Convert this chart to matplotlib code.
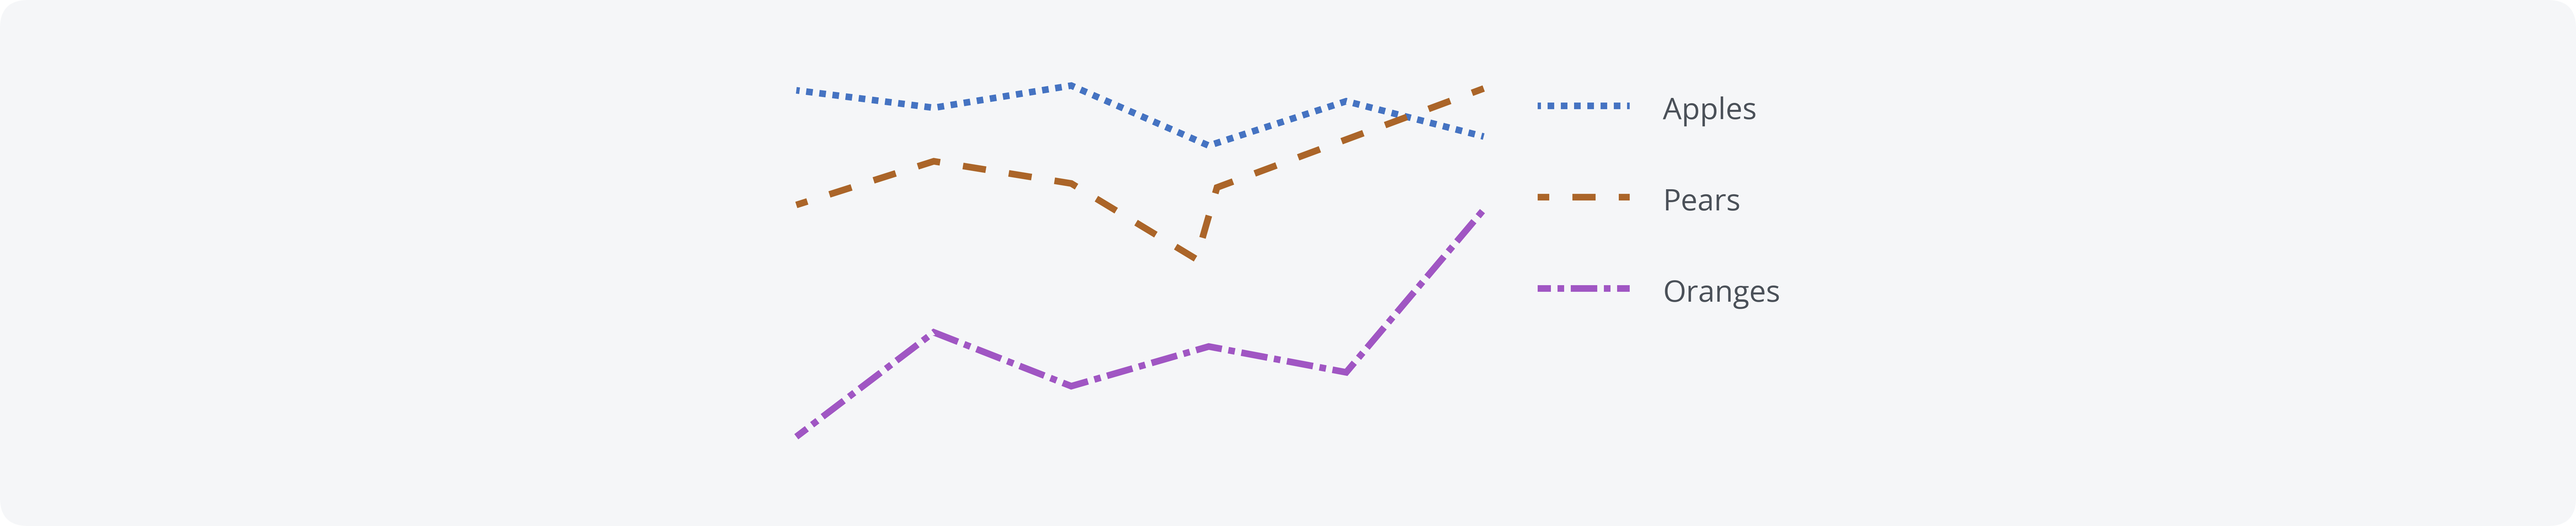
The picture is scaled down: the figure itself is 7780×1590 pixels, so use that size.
import matplotlib
matplotlib.use("Agg")
import matplotlib.pyplot as plt
from matplotlib.lines import Line2D
from matplotlib.patches import FancyBboxPatch

# data (x = category index, y = value 0..100)
apples_x = [0, 1, 2, 3, 4, 5]
apples_y = [97.0, 92.2, 98.3, 81.8, 94.0, 84.3]

pears_x = [0, 1, 2, 2.91, 3.06, 5]
pears_y = [65.5, 77.5, 71.4, 50.6, 70.3, 97.5]

oranges_x = [0, 1, 2, 3, 4, 5]
oranges_y = [1.8, 30.5, 15.7, 26.6, 19.5, 64.2]

labels = ["Apples", "Pears", "Oranges"]
colors = ["#4573c2", "#ab6529", "#a056c3"]

W, H, DPI = 7780, 1590, 100
U = 5 * 72 / DPI  # one css px of the source, in points

styles = [
    (2 * U, (4 * U, 4 * U)),
    (7 * U, (14 * U, 14 * U)),
    (8 * U, (16 * U, 4 * U, 4 * U, 4 * U)),
]

plt.rcParams['lines.scale_dashes'] = False
plt.rcParams['font.family'] = ['Open Sans', 'DejaVu Sans']

fig = plt.figure(figsize=(W / DPI, H / DPI), dpi=DPI, facecolor="white")

# rounded card background
card = FancyBboxPatch((0, 0), W, H, boxstyle="round,pad=0,rounding_size=85",
                      transform=None, facecolor="#f5f6f8", edgecolor="none", zorder=-5)
fig.patches.append(card)


def px(x, y):
    # pixel position (from top-left) -> figure fraction
    return x / W, 1 - y / H


# plot area: x 0..5 spans 2405..4481 px, y 0..100 spans 1340..240 px
left, top = px(2405, 240)
right, bottom = px(4481, 1340)
ax = fig.add_axes([left, bottom, right - left, top - bottom])
ax.set_xlim(0, 5)
ax.set_ylim(0, 100)
ax.axis("off")

series = [(apples_x, apples_y), (pears_x, pears_y), (oranges_x, oranges_y)]
for (xs, ys), c, ls in zip(series, colors, styles):
    ax.plot(xs, ys, color=c, lw=4 * U, linestyle=ls, dash_capstyle="butt",
            dash_joinstyle="miter", clip_on=False)

# legend, drawn by hand to match the source spacing
for i, (lab, c, ls) in enumerate(zip(labels, colors, styles)):
    y = 320 + i * 276
    x0, y0 = px(4644, y)
    x1, _ = px(4922, y)
    fig.add_artist(Line2D([x0, x1], [y0, y0], transform=fig.transFigure, color=c,
                          lw=4 * U, linestyle=ls, dash_capstyle="butt"))
    tx, ty = px(5022, y + 40)
    fig.text(tx, ty, lab, fontsize=18 * U, color="#4b5159", va="baseline", ha="left")

fig.savefig("out.png", dpi=DPI, facecolor=fig.get_facecolor())
